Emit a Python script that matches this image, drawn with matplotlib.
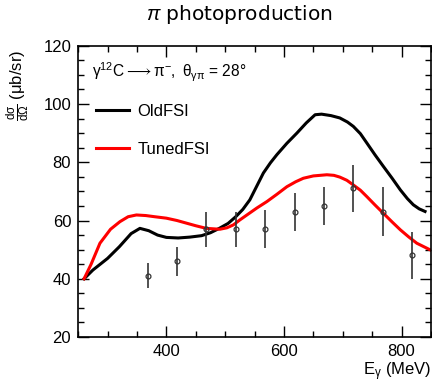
import numpy as np
import matplotlib
matplotlib.use('Agg')
import matplotlib.pyplot as plt
from matplotlib.ticker import MultipleLocator

plt.rcParams['font.family'] = ['Liberation Sans', 'DejaVu Sans']
plt.rcParams['mathtext.fontset'] = 'custom'
plt.rcParams['mathtext.rm'] = 'Liberation Sans'
plt.rcParams['mathtext.it'] = 'Liberation Sans:italic'
plt.rcParams['mathtext.bf'] = 'Liberation Sans:bold'

# data points (E_gamma in MeV, dsigma/dOmega in ub/sr)
e_data = [368, 418, 468, 518, 568, 618, 668, 718, 768, 818]
xs_data = [41.0, 46.0, 57.0, 57.0, 57.0, 63.0, 65.0, 71.0, 63.0, 48.0]
xs_err = [4.3, 5.0, 6.0, 6.0, 6.5, 6.5, 6.5, 8.2, 8.4, 8.2]

# OldFSI curve
e_old = [260, 275, 300, 320, 340, 355, 370, 385, 400, 420, 440, 460, 475, 490,
         505, 518, 530, 542, 553, 565, 577, 588, 605, 622, 638, 653, 664, 680,
         695, 708, 718, 730, 741, 755, 769, 784, 798, 810, 820, 830, 840]
xs_old = [40.0, 43.0, 47.0, 51.0, 55.5, 57.3, 56.5, 55.0, 54.2, 54.0, 54.3, 54.8,
          55.8, 57.3, 59.0, 61.3, 63.8, 67.1, 71.5, 76.3, 79.8, 82.6, 86.5, 90.0,
          93.5, 96.3, 96.5, 96.0, 95.2, 93.8, 92.3, 89.8, 86.6, 82.5, 78.6, 74.5,
          70.5, 67.5, 65.4, 64.0, 63.1]

# TunedFSI curve
e_tuned = [260, 272, 287, 305, 321, 335, 349, 365, 380, 400, 418, 434, 450, 468,
           491, 503, 514, 525, 537, 554, 571, 588, 605, 620, 633, 650, 673, 685,
           695, 707, 718, 730, 741, 755, 769, 784, 798, 812, 826, 838, 849]
xs_tuned = [40.0, 45.0, 52.2, 57.0, 59.6, 61.3, 61.9, 61.7, 61.3, 60.8, 60.0, 59.1,
            58.2, 57.3, 57.0, 57.5, 58.5, 60.2, 61.9, 64.3, 66.5, 69.0, 71.6, 73.3,
            74.5, 75.3, 75.7, 75.5, 74.9, 73.8, 72.2, 70.4, 68.2, 65.3, 62.5, 59.5,
            56.8, 54.4, 52.2, 51.0, 49.9]

fig = plt.figure(figsize=(4.32, 3.83), dpi=100)
ax = fig.add_axes([0.181, 0.120, 0.8165, 0.7607])

ax.plot(e_old, xs_old, color='black', lw=2.2, label='OldFSI')
ax.plot(e_tuned, xs_tuned, color='red', lw=2.2, label='TunedFSI')
ax.errorbar(e_data, xs_data, yerr=xs_err, fmt='o', ms=3.5, mfc='none',
            mec='#333333', mew=0.9, ecolor='#333333', elinewidth=1.2, capsize=0)

ax.set_xlim(250, 850)
ax.set_ylim(20, 120)
ax.xaxis.set_major_locator(MultipleLocator(200))
ax.xaxis.set_minor_locator(MultipleLocator(50))
ax.yaxis.set_major_locator(MultipleLocator(20))
ax.yaxis.set_minor_locator(MultipleLocator(5))
ax.tick_params(which='both', direction='in', top=True, right=True, width=1.0,
               labelsize=12, pad=5)
ax.tick_params(which='major', length=8)
ax.tick_params(which='minor', length=4.5)
for s in ax.spines.values():
    s.set_linewidth(1.2)

ax.legend(loc='upper left', bbox_to_anchor=(0.05, 0.80), frameon=False,
          fontsize=12, handlelength=2.0, handletextpad=0.5, labelspacing=1.38,
          borderpad=0, borderaxespad=0)

ax.text(0.04, 0.91, r'$\mathrm{\gamma^{12}C \longrightarrow \pi^{-},\ \theta_{\gamma\pi}}$ = 28°',
        transform=ax.transAxes, fontsize=11.2, va='center', ha='left')

fig.text(0.998, 0.03, r'$\mathrm{E_{\gamma}}$ (MeV)', ha='right', va='center', fontsize=12)
fig.text(0.042, 0.869, r'$\mathrm{\frac{d\sigma}{d\Omega}}$ (μb/sr)', rotation=90,
         ha='center', va='top', fontsize=12)
fig.text(0.555, 0.962, r'$\pi$ photoproduction', ha='center', va='center',
         fontsize=14.5, family='DejaVu Sans')

fig.savefig('out.png', dpi=100)
